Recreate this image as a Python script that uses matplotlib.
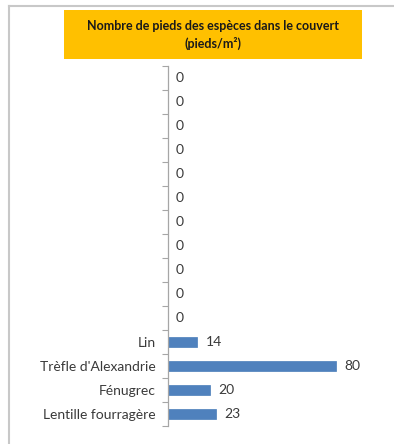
import matplotlib
matplotlib.use("Agg")
import matplotlib.pyplot as plt
from matplotlib.patches import Rectangle
from matplotlib.lines import Line2D

categories = ["", "", "", "", "", "", "", "", "", "", "", "Lin", "Trèfle d'Alexandrie", "Fénugrec", "Lentille fourragère"]
values = [0, 0, 0, 0, 0, 0, 0, 0, 0, 0, 0, 14, 80, 20, 23]
title_lines = ["Nombre de pieds des espèces dans le couvert", "(pieds/m²)"]

W, H = 394, 444
fig = plt.figure(figsize=(W / 100, H / 100), dpi=100)
fig.patch.set_facecolor("white")
font = ["Lato", "DejaVu Sans"]
txt_color = "#3a3a3a"

# axes placement
left_px, right_px, top_px, bot_px = 168, 378, 66, 426
ax = fig.add_axes([left_px / W, 1 - bot_px / H, (right_px - left_px) / W, (bot_px - top_px) / H])
n = len(categories)
pos = list(range(n))
ax.barh(pos, values, height=0.4, color="#4F81BD", edgecolor="#4A7DBA", linewidth=0.5)
ax.set_ylim(n - 0.5, -0.5)
ax.set_xlim(0, 100)
ax.set_yticks(pos)
ax.set_yticklabels(categories, fontfamily=font, fontsize=10, color=txt_color)
ax.tick_params(axis="y", length=0, pad=9)
# boundary ticks
ax.set_yticks([p - 0.5 for p in pos] + [n - 0.5], minor=True)
ax.tick_params(axis="y", which="minor", length=4, direction="out", color="#A6A6A6", width=0.8)
ax.set_xticks([])
for s in ["top", "right", "bottom"]:
    ax.spines[s].set_visible(False)
ax.spines["left"].set_color("#A6A6A6")
ax.spines["left"].set_linewidth(0.9)
for p, v in zip(pos, values):
    ax.annotate(str(v), (v, p), xytext=(8, 0), textcoords="offset pixels",
                va="center", ha="left", fontfamily=font, fontsize=10, color=txt_color)
ax.patch.set_alpha(0)

# title box
bx0, bx1, by0, by1 = 64, 362, 10, 59
fig.add_artist(Rectangle((bx0 / W, 1 - by1 / H), (bx1 - bx0) / W, (by1 - by0) / H,
                         transform=fig.transFigure, facecolor="#FFC000", edgecolor="none"))
fig.text((bx0 + bx1) / 2 / W, 1 - 26 / H, title_lines[0], ha="center", va="center",
         fontfamily=font, fontsize=9, fontweight="bold", color="#1a1a1a")
fig.text((bx0 + bx1) / 2 / W, 1 - 43 / H, title_lines[1], ha="center", va="center",
         fontfamily=font, fontsize=9, fontweight="bold", color="#1a1a1a")

# outer frame (top and left only visible)
fig.add_artist(Line2D([8.5 / W, 1], [1 - 6.5 / H, 1 - 6.5 / H], transform=fig.transFigure, color="#C8C8C8", linewidth=1.5))
fig.add_artist(Line2D([8.5 / W, 8.5 / W], [0, 1 - 6.5 / H], transform=fig.transFigure, color="#C8C8C8", linewidth=1.5))

fig.savefig("out.png", dpi=100)
